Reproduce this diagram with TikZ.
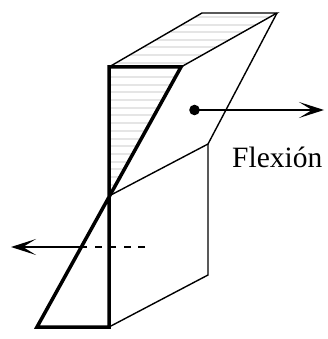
\documentclass[tikz,border=0pt]{standalone}
\usepackage{fontspec}
\setmainfont{Liberation Serif}
\usetikzlibrary{arrows.meta}
\tikzset{
  thinedge/.style={line width=1.4pt,line join=miter},
  thickedge/.style={line width=3.5pt,line join=miter},
  hatchline/.style={draw=black!10,line width=2pt},
  arrowline/.style={line width=1.5pt,-{Stealth[length=25pt,width=16pt,inset=13pt]}}
}
\begin{document}
\begin{tikzpicture}[x=1pt,y=-1pt]
\useasboundingbox (0,0) rectangle (328,339);
\coordinate (A) at (109,67);
\coordinate (B) at (181,67);
\coordinate (C) at (277,13);
\coordinate (D) at (202,13);
\coordinate (E) at (208,144);
\coordinate (F) at (109,196);
\coordinate (G) at (208,275);
\coordinate (H) at (109,327);
\coordinate (I) at (37,327);
\coordinate (P) at (194.5,110);
\coordinate (Q) at (324,110);
\coordinate (R) at (145,247);
\coordinate (S) at (84,247);
\coordinate (T) at (11,247);
\begin{scope}
\clip (A) -- (D) -- (C) -- (B) -- cycle;
\foreach \y in {17,24.6,...,66}{\draw[hatchline] (100,\y) -- (280,\y);}
\end{scope}
\begin{scope}
\clip (A) -- (B) -- (F) -- cycle;
\foreach \y in {77,84.7,...,196}{\draw[hatchline] (100,\y) -- (190,\y);}
\end{scope}
\draw[thinedge] (A) -- (D) -- (C) -- (B);
\draw[thinedge] (C) -- (E) -- (F);
\draw[thinedge] (E) -- (G) -- (H);
\draw[thickedge] (A) -- (B) -- (I) -- (H) -- cycle;
\fill (P) circle (5.3);
\draw[arrowline] (P) -- (Q);
\draw[line width=1.5pt,dash pattern=on 7pt off 7.5pt] (R) -- (S);
\draw[arrowline] (S) -- (T);
\node[font=\fontsize{29.5}{32}\selectfont,inner sep=0pt,anchor=base west] (flex) at (232,167) {Flexión};
\end{tikzpicture}
\end{document}
